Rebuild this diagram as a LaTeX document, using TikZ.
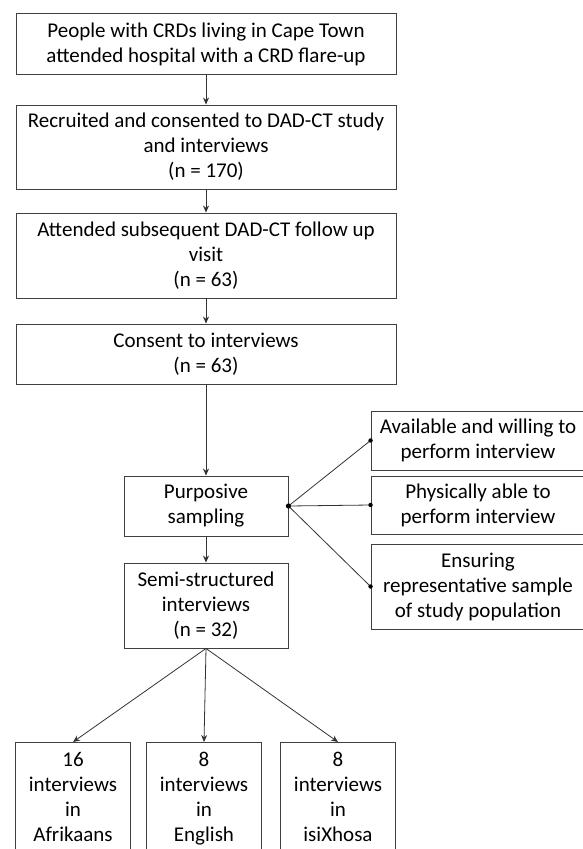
\documentclass[tikz,border=0pt]{standalone}
\usepackage{fontspec}
\setmainfont{Carlito}
\usetikzlibrary{arrows.meta}

\tikzset{
  box/.style={draw=black!75,line width=0.9pt,align=center,inner sep=0pt,
    font=\fontsize{21}{25}\selectfont},
  lang/.style={box,minimum width=115pt,anchor=north,inner ysep=10pt},
  link/.style={draw=black!80,line width=0.8pt},
  arr/.style={link,-{Stealth[length=7pt,width=6pt]}},
  dot/.style={fill=black},
}

\begin{document}
\begin{tikzpicture}[x=1pt,y=-1pt]
\useasboundingbox (0,0) rectangle (583,849);
\clip (0,0) rectangle (583,849);
% main column
\node[box,minimum width=380pt,minimum height=61pt] (people) at (206,44) {People with CRDs living in Cape Town\\attended hospital with a CRD flare-up};
\node[box,minimum width=380pt,minimum height=84pt] (recruit) at (206,147) {Recruited and consented to DAD-CT study\\and interviews\\(n = 170)};
\node[box,minimum width=380pt,minimum height=85pt] (followup) at (206,255.5) {Attended subsequent DAD-CT follow up\\visit\\(n = 63)};
\node[box,minimum width=380pt,minimum height=60pt] (consent) at (206,354) {Consent to interviews\\(n = 63)};
\node[box,minimum width=164pt,minimum height=60pt] (purpose) at (206,506) {Purposive\\sampling};
\node[box,minimum width=164pt,minimum height=85pt] (semi) at (206,605.5) {Semi-structured\\interviews\\(n = 32)};
% sampling criteria
\node[box,minimum width=214pt,minimum height=59pt] (avail) at (478,440.5) {Available and willing to\\perform interview};
\node[box,minimum width=214pt,minimum height=58pt] (able) at (478,505) {Physically able to\\perform interview};
\node[box,minimum width=214pt,minimum height=85pt] (repr) at (478,586.5) {Ensuring\\representative sample\\of study population};
% languages
\node[lang] (afr) at (73,742) {16\\interviews\\in\\Afrikaans};
\node[lang] (eng) at (204,742) {8\\interviews\\in\\English};
\node[lang] (xho) at (338,742) {8\\interviews\\in\\isiXhosa};

\draw[arr] (people) -- (recruit);
\draw[arr] (recruit) -- (followup);
\draw[arr] (followup) -- (consent);
\draw[arr] (consent) -- (purpose);
\draw[arr] (purpose) -- (semi);
\foreach \k in {afr,eng,xho}
  \draw[arr] (semi.south) -- (\k.north);
\foreach \k in {avail,able,repr}{
  \draw[link] (purpose.east) -- (\k.west);
  \fill[dot] (\k.west) circle (2.2pt);
}
\fill[dot] (purpose.east) circle (2.6pt);
\end{tikzpicture}
\end{document}
